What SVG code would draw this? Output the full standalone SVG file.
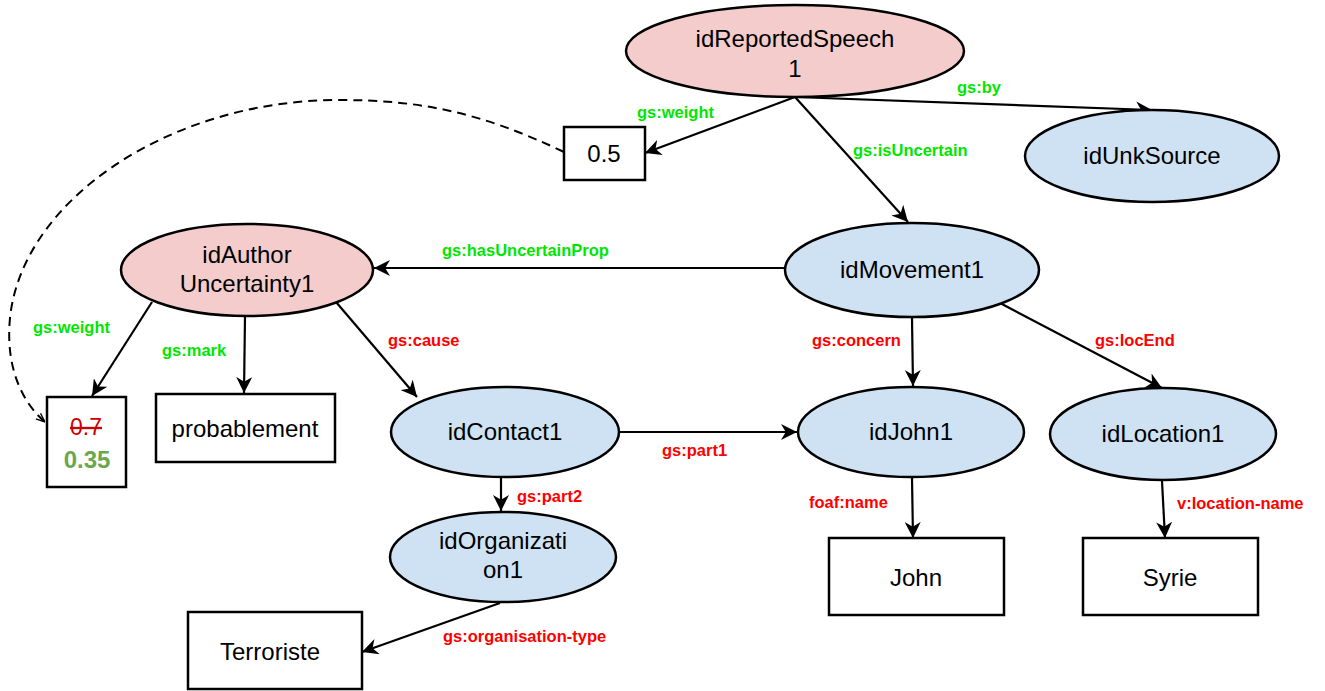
<svg xmlns="http://www.w3.org/2000/svg" width="1325" height="691" viewBox="0 0 1325 691">
<defs>
<marker id="ah2" viewBox="0 0 10 10" refX="10" refY="5" markerWidth="16" markerHeight="16" markerUnits="userSpaceOnUse" orient="auto"><path d="M0,0 L10,5 L0,10 L3,5 z" fill="#000"/></marker>
<marker id="ahs" viewBox="0 0 10 10" refX="10" refY="5" markerWidth="9" markerHeight="9" markerUnits="userSpaceOnUse" orient="auto"><path d="M0,1 L10,5 L0,9" fill="none" stroke="#000" stroke-width="1.5"/></marker>
<style>
.pink{fill:#f4cccc;stroke:#000;stroke-width:2.5}
.blue{fill:#cfe2f3;stroke:#000;stroke-width:2.5}
.box{fill:#fff;stroke:#000;stroke-width:2.5}
.nt{font-family:"Liberation Sans",Arial,sans-serif;font-size:24px;fill:#000;text-anchor:middle}
.e{stroke:#000;stroke-width:2.2;fill:none;marker-end:url(#ah2)}
.d{stroke:#000;stroke-width:2;fill:none;stroke-dasharray:9,6;marker-end:url(#ahs)}
.lg{font-family:"Liberation Sans",Arial,sans-serif;font-size:16.5px;font-weight:bold;fill:#00e600}
.lr{font-family:"Liberation Sans",Arial,sans-serif;font-size:16.5px;font-weight:bold;fill:#ff0000}
</style>
</defs>
<g id="connectors">
<path class="e" d="M795,97 L645,153"/>
<path class="e" d="M795,97 L1152,110"/>
<path class="e" d="M795,97 L908,222"/>
<path class="e" d="M785,268 L374,268"/>
<path class="e" d="M152,302 L92,396"/>
<path class="e" d="M245,316 L244,393"/>
<path class="e" d="M336,302 L417,397"/>
<path class="e" d="M912,318 L913,386"/>
<path class="e" d="M1000,303 L1162,388"/>
<path class="e" d="M619,432 L797,432"/>
<path class="e" d="M501,477 L501,511"/>
<path class="e" d="M912,478 L913,538"/>
<path class="e" d="M1162,481 L1165,538"/>
<path class="e" d="M500,603 L362,652"/>
<path class="d" d="M564,152 C480,112 420,100 339,100 C170,100 22,200 10,318 C5,370 24,404 45,422"/>
<text class="lg" x="637" y="118">gs:weight</text>
<text class="lg" x="957" y="93">gs:by</text>
<text class="lg" x="853" y="156">gs:isUncertain</text>
<text class="lg" x="442" y="256">gs:hasUncertainProp</text>
<text class="lg" x="33" y="333">gs:weight</text>
<text class="lg" x="162" y="356">gs:mark</text>
<text class="lr" x="388" y="346">gs:cause</text>
<text class="lr" x="812" y="346">gs:concern</text>
<text class="lr" x="1095" y="346">gs:locEnd</text>
<text class="lr" x="662" y="456">gs:part1</text>
<text class="lr" x="517" y="502">gs:part2</text>
<text class="lr" x="809" y="508">foaf:name</text>
<text class="lr" x="1177" y="509">v:location-name</text>
<text class="lr" x="443" y="642">gs:organisation-type</text>
</g>
<g id="idReportedSpeech1"><ellipse class="pink" cx="795" cy="51" rx="169" ry="46"/><text class="nt" x="795" y="47">idReportedSpeech</text><text class="nt" x="795" y="77">1</text></g>
<g id="w05"><rect class="box" x="564" y="127" width="81" height="53"/><text class="nt" x="604" y="162">0.5</text></g>
<g id="idUnkSource"><ellipse class="blue" cx="1152" cy="156" rx="127" ry="46"/><text class="nt" x="1152" y="164">idUnkSource</text></g>
<g id="idAuthorUncertainty1"><ellipse class="pink" cx="247" cy="270" rx="126" ry="46"/><text class="nt" x="247" y="263">idAuthor</text><text class="nt" x="247" y="292">Uncertainty1</text></g>
<g id="idMovement1"><ellipse class="blue" cx="912" cy="270" rx="127" ry="47"/><text class="nt" x="912" y="278">idMovement1</text></g>
<g id="w07"><rect class="box" x="47" y="397" width="79" height="90"/><text x="86" y="435" font-family="Liberation Sans,Arial,sans-serif" font-size="23" fill="#cc0000" text-anchor="middle" text-decoration="line-through">0.7</text><text x="87" y="468" font-family="Liberation Sans,Arial,sans-serif" font-size="24" font-weight="bold" fill="#6aa84f" text-anchor="middle">0.35</text></g>
<g id="probablement"><rect class="box" x="156" y="394" width="179" height="68"/><text class="nt" x="245" y="437">probablement</text></g>
<g id="idContact1"><ellipse class="blue" cx="505" cy="432" rx="114" ry="45"/><text class="nt" x="505" y="440">idContact1</text></g>
<g id="idJohn1"><ellipse class="blue" cx="911" cy="432" rx="113" ry="45"/><text class="nt" x="911" y="440">idJohn1</text></g>
<g id="idLocation1"><ellipse class="blue" cx="1163" cy="434" rx="113" ry="46"/><text class="nt" x="1163" y="442">idLocation1</text></g>
<g id="idOrganization1"><ellipse class="blue" cx="503" cy="557" rx="113" ry="45"/><text class="nt" x="503" y="549">idOrganizati</text><text class="nt" x="503" y="578">on1</text></g>
<g id="John"><rect class="box" x="829" y="538" width="175" height="77"/><text class="nt" x="916" y="586">John</text></g>
<g id="Syrie"><rect class="box" x="1083" y="538" width="175" height="77"/><text class="nt" x="1170" y="586">Syrie</text></g>
<g id="Terroriste"><rect class="box" x="188" y="612" width="174" height="77"/><text class="nt" x="270" y="660">Terroriste</text></g>
</svg>
